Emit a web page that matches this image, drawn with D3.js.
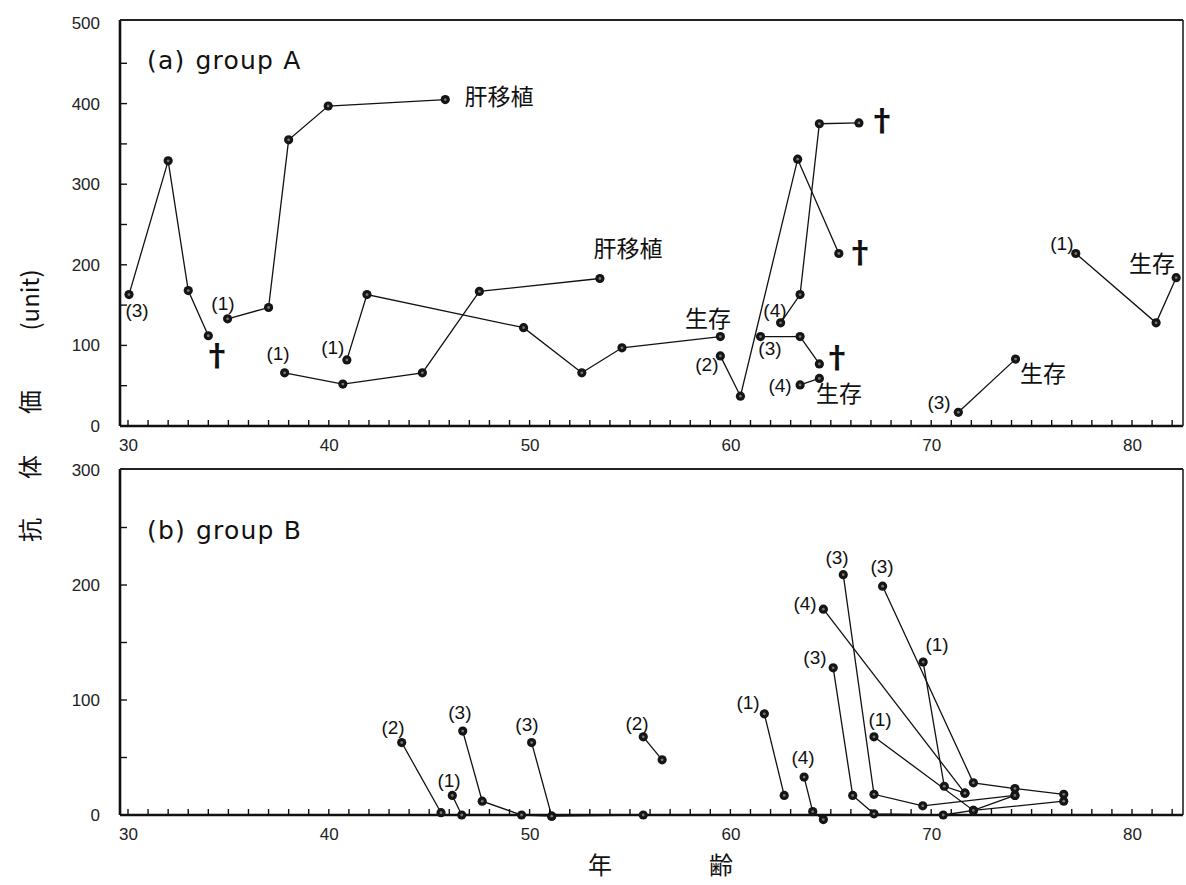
<!DOCTYPE html>
<html>
<head>
<meta charset="utf-8">
<script src="https://cdn.jsdelivr.net/npm/d3@7"></script>
<style>
  body { margin: 0; background: #fff; }
</style>
</head>
<body>
<svg id="chart" width="1186" height="885"></svg>
<script>
// (a) group A : each patient = list of [age, antibody titre]
var seriesA = [
  [[30.05, 163], [32.0, 329], [33.0, 168], [34.0, 112]],
  [[34.96, 133], [37.0, 147], [38.0, 355], [39.97, 397], [45.8, 405]],
  [[37.8, 66], [40.7, 52], [44.66, 66], [47.5, 167], [53.5, 183]],
  [[40.9, 82], [41.9, 163], [49.7, 122], [52.6, 66], [54.6, 97], [59.5, 111]],
  [[59.5, 87], [60.5, 37], [63.35, 331], [65.4, 214]],
  [[62.5, 128], [63.47, 163], [64.43, 375], [66.4, 376]],
  [[61.5, 111], [63.47, 111], [64.43, 77]],
  [[63.47, 51], [64.43, 59]],
  [[77.2, 214], [81.2, 128], [82.2, 184]],
  [[71.35, 17], [74.2, 83]]
];

// annotations for group A : [age, value, text]
var notesA = [
  [30.45, 143, "(3)"], [34.43, 87, "†"], [34.73, 152, "(1)"],
  [48.48, 408, "肝移植"], [37.47, 90, "(1)"], [40.2, 97, "(1)"],
  [54.9, 220, "肝移植"], [58.88, 133, "生存"], [58.83, 77, "(2)"],
  [61.97, 96, "(3)"], [62.22, 143, "(4)"], [67.55, 379, "†"],
  [66.45, 215, "†"], [65.31, 85, "†"], [62.47, 50, "(4)"],
  [65.41, 40, "生存"], [76.51, 226, "(1)"], [81.0, 201, "生存"],
  [70.39, 29, "(3)"], [75.57, 65, "生存"]
];

// (b) group B
var seriesB = [
  [[43.63, 63], [45.59, 2]],
  [[46.15, 17], [46.62, 0]],
  [[46.67, 73], [47.64, 12], [49.6, 0], [51.1, -1]],
  [[50.1, 63], [51.1, -1], [55.66, 0]],
  [[55.66, 68], [56.6, 48]],
  [[61.69, 88], [62.68, 17]],
  [[63.67, 33], [64.1, 3], [64.63, -4]],
  [[65.12, 128], [66.09, 17], [67.15, 1], [70.6, 0], [72.1, 4], [74.17, 17]],
  [[67.15, 68], [72.1, 4], [76.6, 12]],
  [[64.63, 179], [71.68, 19]],
  [[65.62, 209], [67.15, 18], [69.58, 8], [74.17, 17]],
  [[67.58, 199], [72.1, 28], [74.17, 23], [76.6, 18]],
  [[69.6, 133], [70.65, 25], [71.68, 19]]
];

var notesB = [
  [43.2, 76, "(2)"], [45.99, 30, "(1)"], [46.53, 89, "(3)"],
  [49.87, 79, "(3)"], [55.35, 80, "(2)"], [60.88, 98, "(1)"],
  [63.62, 50, "(4)"], [64.21, 137, "(3)"], [67.45, 83, "(1)"],
  [63.72, 184, "(4)"], [65.31, 224, "(3)"], [67.55, 216, "(3)"],
  [70.29, 148, "(1)"]
];

var ageTicks = d3.range(30, 83);
var ageLabels = [30, 40, 50, 60, 70, 80];

var svg = d3.select("#chart");
var numFont = "'Liberation Sans', Arial, sans-serif";
var titleFont = "'DejaVu Sans', sans-serif";
var jpFont = "'Noto Sans CJK JP', sans-serif";

var x = d3.scaleLinear().domain([30, 80]).range([128, 1132]);
var frameLeft = 120, frameRight = 1183;

function drawPanel(p) {
  var y = d3.scaleLinear().domain([0, p.max]).range([p.bottom, p.top]);
  var g = svg.append("g");

  // frame
  g.append("line").attr("x1", frameLeft).attr("x2", frameLeft)
    .attr("y1", p.frameTop).attr("y2", p.bottom)
    .attr("stroke", "#111").attr("stroke-width", 2.6);
  g.append("line").attr("x1", frameLeft).attr("x2", frameRight)
    .attr("y1", p.bottom).attr("y2", p.bottom)
    .attr("stroke", "#111").attr("stroke-width", 2.6);
  g.append("line").attr("x1", frameLeft).attr("x2", frameRight)
    .attr("y1", p.frameTop).attr("y2", p.frameTop)
    .attr("stroke", "#222").attr("stroke-width", 2);
  g.append("line").attr("x1", frameRight).attr("x2", frameRight)
    .attr("y1", p.frameTop).attr("y2", p.bottom)
    .attr("stroke", "#222").attr("stroke-width", 1.6);

  // inward tick marks
  g.append("g").selectAll("line")
    .data(ageTicks)
    .enter().append("line")
    .attr("x1", function(d) { return x(d); })
    .attr("x2", function(d) { return x(d); })
    .attr("y1", p.bottom)
    .attr("y2", p.bottom - 6)
    .attr("stroke", "#111")
    .attr("stroke-width", 1.4);

  g.append("g").selectAll("line")
    .data(d3.range(50, p.max, 50))
    .enter().append("line")
    .attr("x1", frameLeft)
    .attr("x2", frameLeft + 7)
    .attr("y1", function(d) { return y(d); })
    .attr("y2", function(d) { return y(d); })
    .attr("stroke", "#111")
    .attr("stroke-width", 1.4);

  // tick labels through the axis generators
  var xa = g.append("g")
    .attr("transform", "translate(0," + p.bottom + ")")
    .call(d3.axisBottom(x).tickValues(ageLabels).tickSize(0).tickPadding(13));
  xa.select(".domain").remove();

  var ya = g.append("g")
    .attr("transform", "translate(" + frameLeft + ",0)")
    .call(d3.axisLeft(y).tickValues(d3.range(0, p.max + 1, 100)).tickSize(0).tickPadding(20));
  ya.select(".domain").remove();

  g.selectAll(".tick text")
    .attr("font-family", numFont)
    .attr("font-size", 17)
    .attr("fill", "#222");

  var line = d3.line()
    .x(function(d) { return x(d[0]); })
    .y(function(d) { return y(d[1]); });

  g.append("g").selectAll("path")
    .data(p.series)
    .enter().append("path")
    .attr("d", line)
    .attr("fill", "none")
    .attr("stroke", "#111")
    .attr("stroke-width", 1.3);

  var pts = [];
  p.series.forEach(function(s) { s.forEach(function(d) { pts.push(d); }); });

  var dots = g.append("g").selectAll("g")
    .data(pts)
    .enter().append("g")
    .attr("transform", function(d) { return "translate(" + x(d[0]) + "," + y(d[1]) + ")"; });
  dots.append("circle").attr("r", 4.6).attr("fill", "#151515");
  dots.append("circle").attr("r", 1.4).attr("fill", "#777");

  g.append("g").selectAll("text")
    .data(p.notes)
    .enter().append("text")
    .attr("x", function(d) { return x(d[0]); })
    .attr("y", function(d) { return y(d[1]); })
    .attr("dy", "0.35em")
    .attr("text-anchor", "middle")
    .attr("fill", "#111")
    .attr("font-family", function(d) { return /[()]/.test(d[2]) ? numFont : jpFont; })
    .attr("font-size", function(d) {
      if (d[2] === "†") return 30;
      if (/[()]/.test(d[2])) return 19;
      return 23;
    })
    .attr("font-weight", function(d) { return d[2] === "†" ? "bold" : "normal"; })
    .text(function(d) { return d[2]; });

  var title = g.append("text")
    .attr("x", 147)
    .attr("y", p.titleY)
    .attr("font-family", titleFont)
    .attr("font-size", 25)
    .attr("letter-spacing", 1.2)
    .attr("fill", "#111");
  title.append("tspan").text(p.tag);
  title.append("tspan").attr("dx", 10).text(p.title);
}

drawPanel({ max: 500, top: 23, bottom: 426, frameTop: 20, series: seriesA, notes: notesA,
  tag: "(a)", title: "group A", titleY: 69 });
drawPanel({ max: 300, top: 470, bottom: 815, frameTop: 469, series: seriesB, notes: notesB,
  tag: "(b)", title: "group B", titleY: 539 });

// y-axis title, rotated
var yTitle = svg.append("g")
  .attr("transform", "translate(31,0) rotate(-90)")
  .attr("font-family", jpFont)
  .attr("font-size", 24)
  .attr("fill", "#111")
  .attr("text-anchor", "middle");
[["抗", 530], ["体", 467], ["価", 402], ["(unit)", 300]].forEach(function(t) {
  yTitle.append("text").attr("x", -t[1]).attr("y", 0).attr("dy", "0.35em").text(t[0]);
});

// x-axis title
svg.append("g")
  .attr("font-family", jpFont)
  .attr("font-size", 24)
  .attr("fill", "#111")
  .attr("text-anchor", "middle")
  .selectAll("text")
  .data([["年", 600], ["齢", 721]])
  .enter().append("text")
  .attr("x", function(d) { return d[1]; })
  .attr("y", 866)
  .attr("dy", "0.35em")
  .text(function(d) { return d[0]; });
</script>
</body>
</html>
